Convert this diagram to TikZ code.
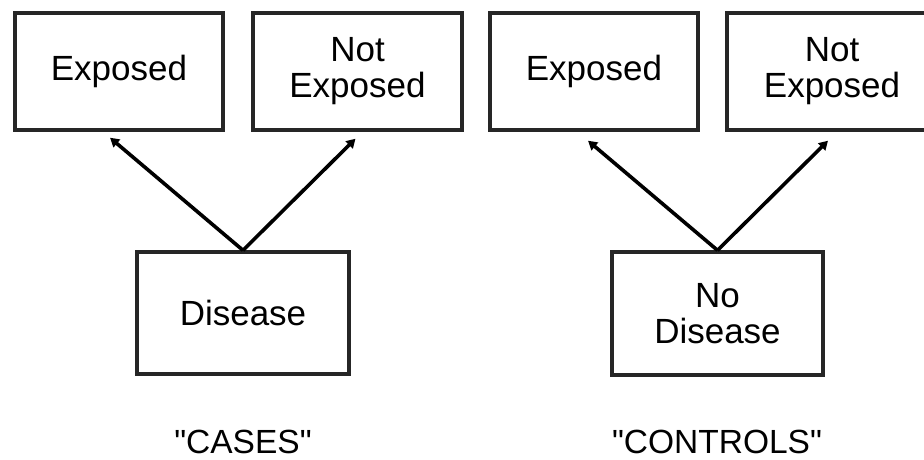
\documentclass[tikz,border=0pt]{standalone}
\usepackage{fontspec}
\setmainfont{Liberation Sans}[Ligatures=TeXOff]
\usetikzlibrary{arrows.meta}
\begin{document}
\begin{tikzpicture}[x=1pt,y=-1pt,
  box/.style={draw=black!85,line width=3.4pt,rectangle,inner sep=0pt,
    minimum height=117pt,align=center,font=\fontsize{35}{36}\selectfont},
  conn/.style={line width=3.6pt,-{Triangle[length=9pt,width=10pt]}},
  grp/.style={font=\fontsize{33.5}{36}\selectfont}]
\useasboundingbox (0,0) rectangle (924,460);
\begin{scope}
\clip (0,0) rectangle (924,460);
\node[box,minimum width=208pt] (expL) at (119,71.5) {Exposed};
\node[box,minimum width=209pt] (notL) at (357.5,71.5) {Not\\Exposed};
\node[box,minimum width=212pt,minimum height=122pt] (dis) at (243,313) {Disease};
\node[box,minimum width=208pt] (expR) at (594,71.5) {Exposed};
\node[box,minimum width=210pt] (notR) at (832,71.5) {Not\\Exposed};
\node[box,minimum width=211pt,minimum height=123pt] (nodis) at (717.5,313.5) {No\\Disease};
\end{scope}
\node[grp] (cases) at (243,442) {"CASES"};
\node[grp] (controls) at (717,442) {"CONTROLS"};
\draw[conn] (dis.north) -- ([xshift=-9pt,yshift=-6pt]expL.south);
\draw[conn] (dis.north) -- ([xshift=-2pt,yshift=-7pt]notL.south);
\draw[conn] (nodis.north) -- ([xshift=-6pt,yshift=-9pt]expR.south);
\draw[conn] (nodis.north) -- ([xshift=-4pt,yshift=-9pt]notR.south);
\end{tikzpicture}
\end{document}
